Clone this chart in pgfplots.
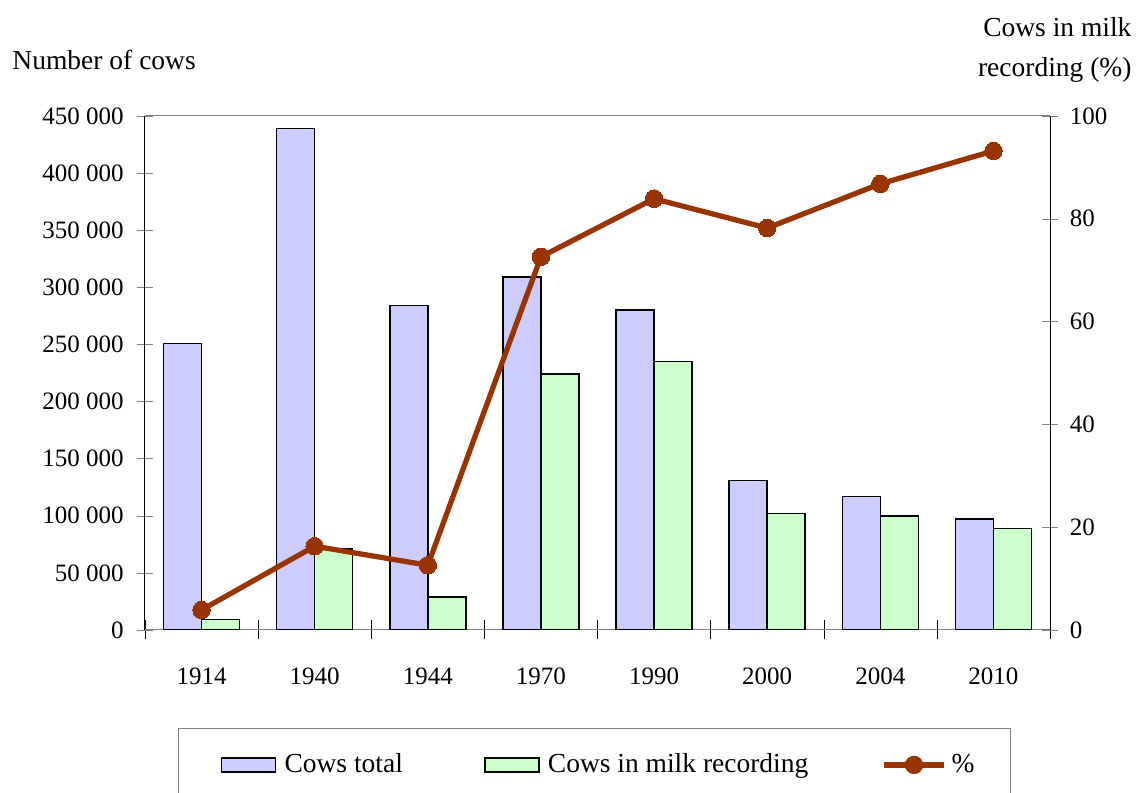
\documentclass[border=0pt]{standalone}
\usepackage{fontspec}
\setmainfont{Liberation Serif}
\usepackage{pgfplots}
\pgfplotsset{compat=1.18}
\definecolor{cowblue}{HTML}{CCCCFF}
\definecolor{cowgreen}{HTML}{CCFFCC}
\definecolor{pctline}{HTML}{993300}
\definecolor{frame}{HTML}{808080}
\begin{document}
\begin{tikzpicture}
\pgfplotsset{
  common/.style={
    scale only axis, width=362pt, height=205.6pt,
    xmin=-0.5, xmax=7.5,
    /pgf/number format/assume math mode=true,
    tick label style={font=\fontsize{10}{12}\selectfont},
  },
}
\begin{axis}[common, name=ax,
    ybar=0pt, bar width=15.2pt,
    axis x line*=bottom, axis y line*=left,
    tick align=center, major tick length=6.4pt,
    x axis line style={-, draw=frame}, y axis line style={-, draw=black},
    ymin=0, ymax=450000, ytick={0,50000,...,450000},
    yticklabels={0,50 000,100 000,150 000,200 000,250 000,300 000,350 000,400 000,450 000},
    scaled y ticks=false,
    yticklabel style={xshift=-1.8pt},
    xtick={0,...,7},
    xticklabels={1914,1940,1944,1970,1990,2000,2004,2010},
    xtick style={draw=none},
    minor xtick={-0.5,0.5,...,7.5},
    minor tick length=7.6pt,
    minor x tick style={draw=black},
    xticklabel style={yshift=-8.4pt},
  ]
\addplot[fill=cowblue, draw=black, line width=0.6pt] coordinates
  {(0,251000) (1,439000) (2,284000) (3,309000) (4,280000) (5,131000) (6,117000) (7,97000)};
\addplot[fill=cowgreen, draw=black, line width=0.6pt] coordinates
  {(0,9000) (1,71000) (2,29000) (3,224000) (4,235000) (5,102000) (6,100000) (7,89000)};
\end{axis}
\draw[frame, line width=0.4pt] (ax.north west) -- (ax.north east);
\begin{axis}[common,
    axis x line=none, axis y line*=right,
    tick align=center, major tick length=6.4pt,
    y axis line style={-, draw=black},
    ymin=0, ymax=100, ytick={0,20,...,100},
    yticklabel style={xshift=1.2pt},
    legend columns=3,
    legend style={at={(axis description cs:0.0365,-0.1907)}, anchor=north west,
      draw=frame, line width=0.4pt, inner xsep=12.5pt, inner ysep=8pt,
      font=\fontsize{11}{13}\selectfont,
      /tikz/column 2/.style={column sep=30.5pt},
      /tikz/column 4/.style={column sep=27.2pt}},
  ]
\addlegendimage{legend image code/.code={\path[draw=none, fill=none] (-4.7pt,0pt) -- (23.2pt,0pt);
  \draw[fill=cowblue, draw=black, line width=0.6pt] (0pt,-2.8pt) rectangle (21.6pt,2.8pt);}}
\addlegendentry{Cows total}
\addlegendimage{legend image code/.code={\path[draw=none, fill=none] (0pt,0pt) -- (23.2pt,0pt);
  \draw[fill=cowgreen, draw=black, line width=0.6pt] (0pt,-2.8pt) rectangle (21.6pt,2.8pt);}}
\addlegendentry{Cows in milk recording}
\addplot[pctline, line width=2.1pt, mark=*, mark size=3.5pt,
    mark options={fill=pctline, draw=pctline, line width=0pt},
    legend image code/.code={\draw[pctline, line width=2.1pt] (0pt,0pt) -- (24pt,0pt);
      \fill[pctline] (12pt,0pt) circle (2.6pt);}]
  coordinates {(0,3.9) (1,16.3) (2,12.6) (3,72.6) (4,83.9) (5,78.2) (6,86.8) (7,93.2)};
\addlegendentry{\%}
\end{axis}
\node[anchor=west, xshift=-53.2pt, yshift=22.4pt, inner sep=0pt, font=\fontsize{11}{13}\selectfont]
  at (ax.north west) {Number of cows};
\node[anchor=east, xshift=32.8pt, yshift=26.4pt, inner sep=0pt, align=right, font=\fontsize{11}{16}\selectfont]
  at (ax.north east) {Cows in milk\\recording (\%)};
\pgfresetboundingbox
\path[use as bounding box] ([xshift=-58pt,yshift=-65.2pt]ax.south west) rectangle ([xshift=396.8pt,yshift=252pt]ax.south west);
\end{tikzpicture}
\end{document}
